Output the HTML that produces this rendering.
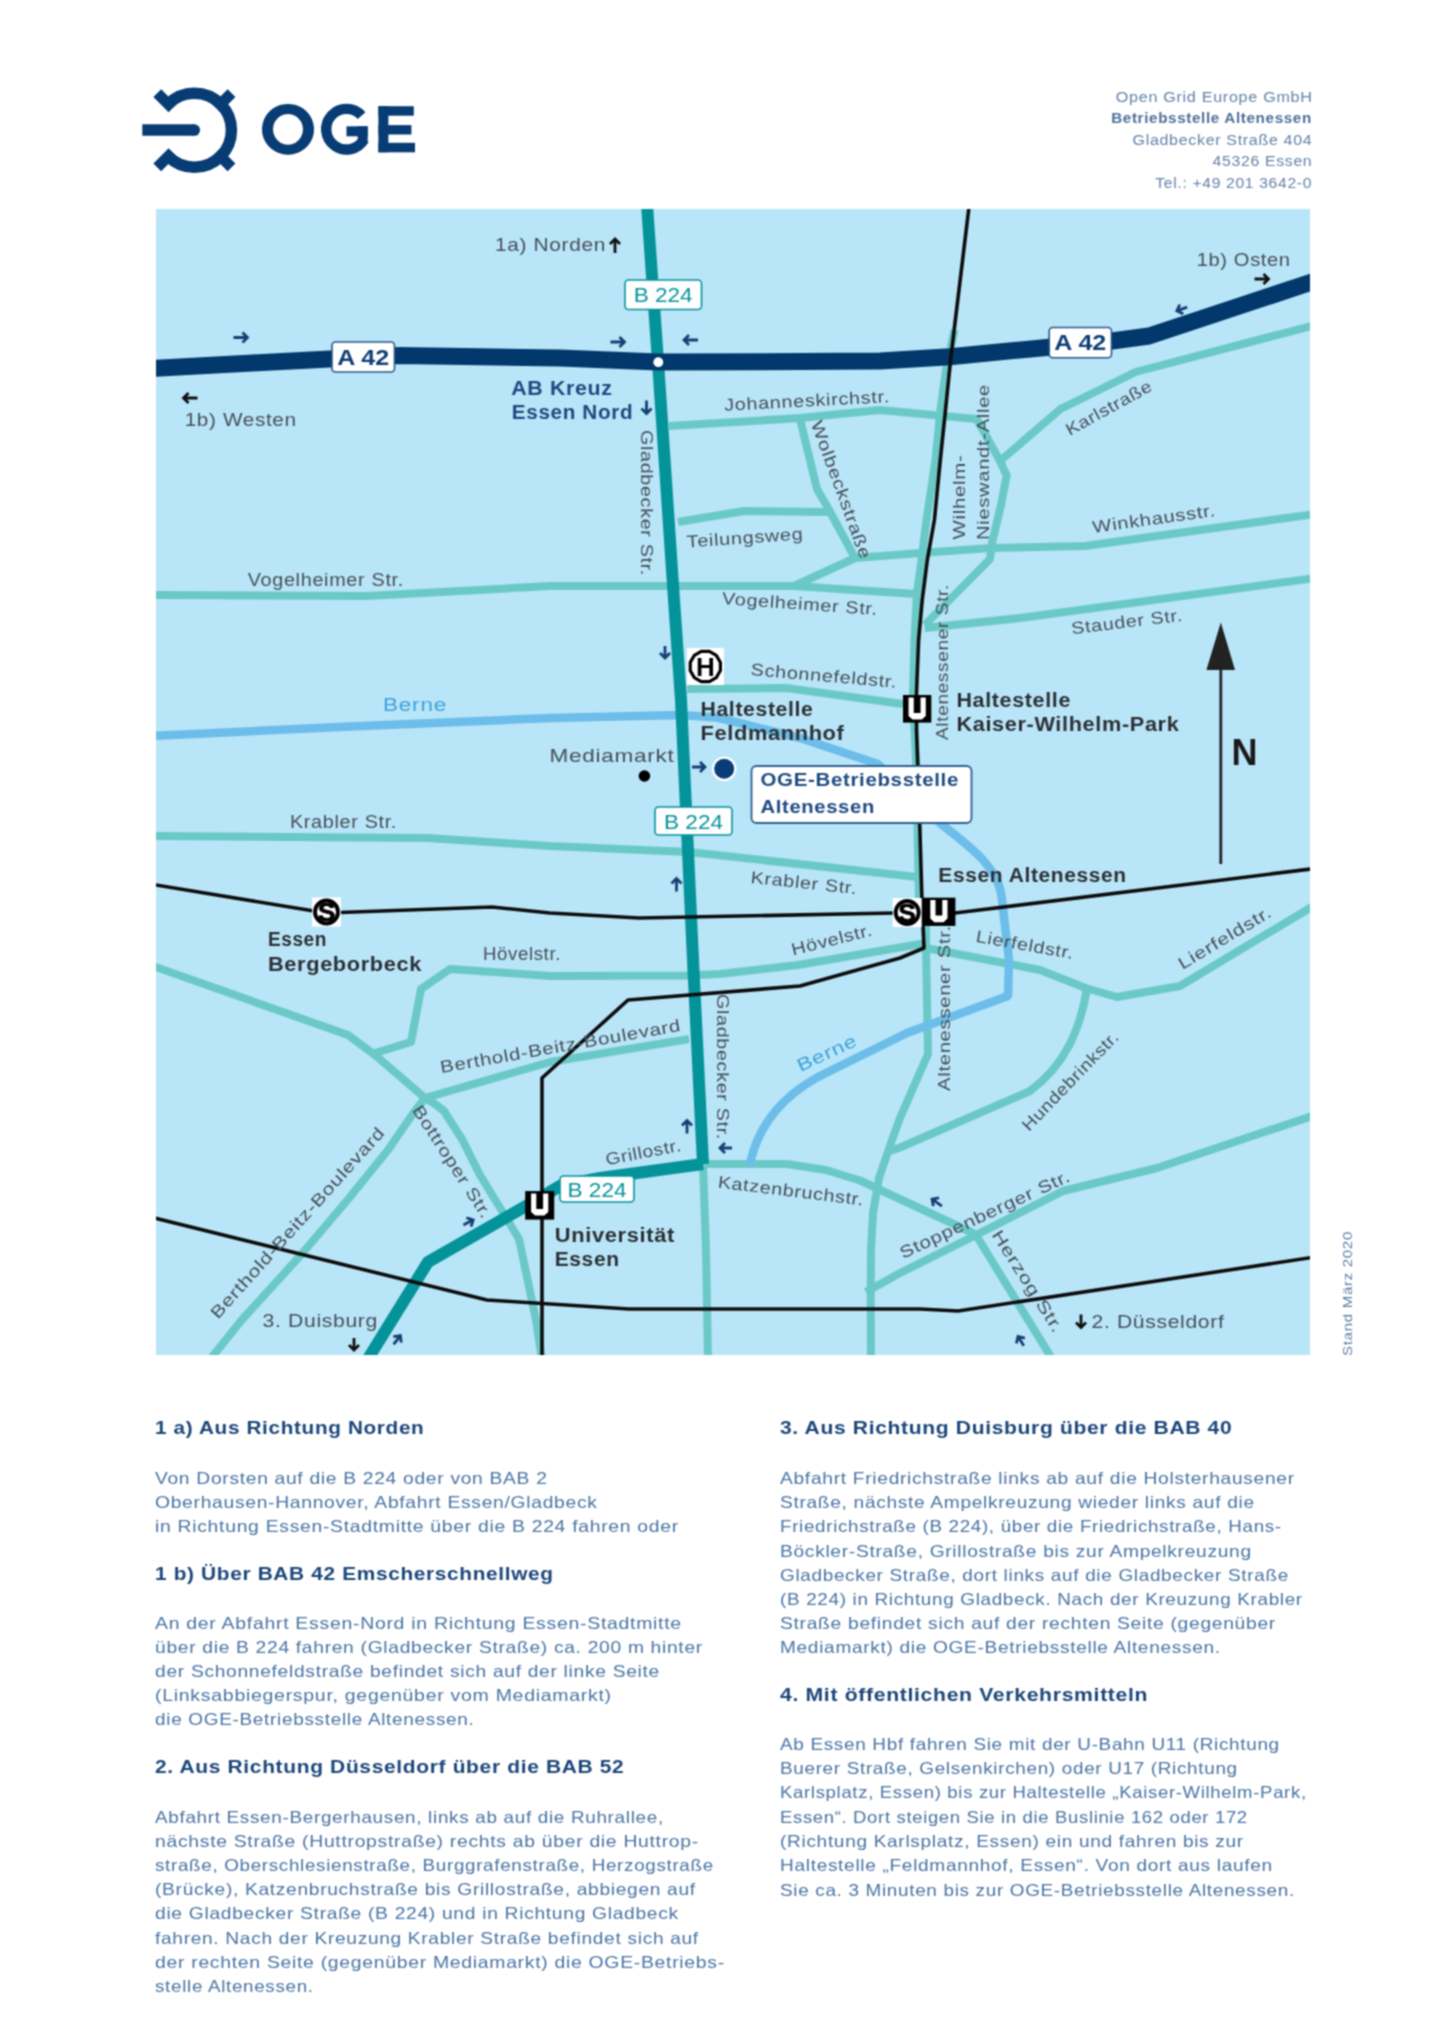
<!DOCTYPE html>
<html lang="de"><head><meta charset="utf-8"><title>OGE Anfahrt Betriebsstelle Altenessen</title>
<style>
html,body{margin:0;padding:0;background:#fff;}
html{overflow:hidden;}
body{width:1440px;height:2038px;position:relative;overflow:hidden;font-family:"Liberation Sans",sans-serif;filter:url(#soft);}
.ln{position:absolute;white-space:nowrap;line-height:20px;height:20px;}
.h{font-weight:bold;color:#1b467a;font-size:19px;}
.b{color:#4a74a3;font-size:16.5px;}
.ad{color:#6482a8;font-size:14px;}
.adb{color:#4d6f99;font-size:14px;font-weight:bold;}
svg{position:absolute;left:0;top:0;}
</style></head><body>
<div class="ln ad" style="top:86.85px;letter-spacing:0.600px;transform:scaleX(1.1536);right:127.90px;text-align:right;transform-origin:100% 50%;">Open Grid Europe GmbH</div>
<div class="ln adb" style="top:108.35px;letter-spacing:0.600px;transform:scaleX(1.0857);right:127.90px;text-align:right;transform-origin:100% 50%;">Betriebsstelle Altenessen</div>
<div class="ln ad" style="top:129.85px;letter-spacing:0.600px;transform:scaleX(1.1424);right:127.90px;text-align:right;transform-origin:100% 50%;">Gladbecker Straße 404</div>
<div class="ln ad" style="top:151.35px;letter-spacing:0.600px;transform:scaleX(1.1288);right:127.90px;text-align:right;transform-origin:100% 50%;">45326 Essen</div>
<div class="ln ad" style="top:172.85px;letter-spacing:0.600px;transform:scaleX(1.1192);right:127.90px;text-align:right;transform-origin:100% 50%;">Tel.: +49 201 3642-0</div>
<div class="ln h" style="top:1417.62px;letter-spacing:0.600px;transform:scaleX(1.0907);left:154.50px;transform-origin:0 50%;">1 a) Aus Richtung Norden</div>
<div class="ln b" style="top:1468.13px;letter-spacing:0.600px;transform:scaleX(1.1656);left:154.50px;transform-origin:0 50%;">Von Dorsten auf die B 224 oder von BAB 2</div>
<div class="ln b" style="top:1492.13px;letter-spacing:0.600px;transform:scaleX(1.1679);left:154.50px;transform-origin:0 50%;">Oberhausen-Hannover, Abfahrt Essen/Gladbeck</div>
<div class="ln b" style="top:1516.13px;letter-spacing:0.600px;transform:scaleX(1.1729);left:154.50px;transform-origin:0 50%;">in Richtung Essen-Stadtmitte über die B 224 fahren oder</div>
<div class="ln h" style="top:1563.62px;letter-spacing:0.600px;transform:scaleX(1.0966);left:154.50px;transform-origin:0 50%;">1 b) Über BAB 42 Emscherschnellweg</div>
<div class="ln b" style="top:1613.13px;letter-spacing:0.600px;transform:scaleX(1.1788);left:154.50px;transform-origin:0 50%;">An der Abfahrt Essen-Nord in Richtung Essen-Stadtmitte</div>
<div class="ln b" style="top:1637.07px;letter-spacing:0.600px;transform:scaleX(1.1646);left:154.50px;transform-origin:0 50%;">über die B 224 fahren (Gladbecker Straße) ca. 200 m hinter</div>
<div class="ln b" style="top:1661.01px;letter-spacing:0.600px;transform:scaleX(1.1638);left:154.50px;transform-origin:0 50%;">der Schonnefeldstraße befindet sich auf der linke Seite</div>
<div class="ln b" style="top:1684.95px;letter-spacing:0.600px;transform:scaleX(1.1818);left:154.50px;transform-origin:0 50%;">(Linksabbiegerspur, gegenüber vom Mediamarkt)</div>
<div class="ln b" style="top:1708.89px;letter-spacing:0.600px;transform:scaleX(1.1489);left:154.50px;transform-origin:0 50%;">die OGE-Betriebsstelle Altenessen.</div>
<div class="ln h" style="top:1756.62px;letter-spacing:0.600px;transform:scaleX(1.1028);left:154.50px;transform-origin:0 50%;">2. Aus Richtung Düsseldorf über die BAB 52</div>
<div class="ln b" style="top:1806.83px;letter-spacing:0.600px;transform:scaleX(1.1439);left:154.50px;transform-origin:0 50%;">Abfahrt Essen-Bergerhausen, links ab auf die Ruhrallee,</div>
<div class="ln b" style="top:1830.99px;letter-spacing:0.600px;transform:scaleX(1.1722);left:154.50px;transform-origin:0 50%;">nächste Straße (Huttropstraße) rechts ab über die Huttrop-</div>
<div class="ln b" style="top:1855.15px;letter-spacing:0.600px;transform:scaleX(1.1399);left:154.50px;transform-origin:0 50%;">straße, Oberschlesienstraße, Burggrafenstraße, Herzogstraße</div>
<div class="ln b" style="top:1879.31px;letter-spacing:0.600px;transform:scaleX(1.1610);left:154.50px;transform-origin:0 50%;">(Brücke), Katzenbruchstraße bis Grillostraße, abbiegen auf</div>
<div class="ln b" style="top:1903.47px;letter-spacing:0.600px;transform:scaleX(1.1649);left:154.50px;transform-origin:0 50%;">die Gladbecker Straße (B 224) und in Richtung Gladbeck</div>
<div class="ln b" style="top:1927.63px;letter-spacing:0.600px;transform:scaleX(1.1583);left:154.50px;transform-origin:0 50%;">fahren. Nach der Kreuzung Krabler Straße befindet sich auf</div>
<div class="ln b" style="top:1951.79px;letter-spacing:0.600px;transform:scaleX(1.1747);left:154.50px;transform-origin:0 50%;">der rechten Seite (gegenüber Mediamarkt) die OGE-Betriebs-</div>
<div class="ln b" style="top:1975.95px;letter-spacing:0.600px;transform:scaleX(1.1402);left:154.50px;transform-origin:0 50%;">stelle Altenessen.</div>
<div class="ln h" style="top:1417.62px;letter-spacing:0.600px;transform:scaleX(1.1070);left:780.00px;transform-origin:0 50%;">3. Aus Richtung Duisburg über die BAB 40</div>
<div class="ln b" style="top:1468.13px;letter-spacing:0.600px;transform:scaleX(1.1631);left:780.00px;transform-origin:0 50%;">Abfahrt Friedrichstraße links ab auf die Holsterhausener</div>
<div class="ln b" style="top:1492.27px;letter-spacing:0.600px;transform:scaleX(1.1589);left:780.00px;transform-origin:0 50%;">Straße, nächste Ampelkreuzung wieder links auf die</div>
<div class="ln b" style="top:1516.41px;letter-spacing:0.600px;transform:scaleX(1.1385);left:780.00px;transform-origin:0 50%;">Friedrichstraße (B 224), über die Friedrichstraße, Hans-</div>
<div class="ln b" style="top:1540.55px;letter-spacing:0.600px;transform:scaleX(1.1621);left:780.00px;transform-origin:0 50%;">Böckler-Straße, Grillostraße bis zur Ampelkreuzung</div>
<div class="ln b" style="top:1564.69px;letter-spacing:0.600px;transform:scaleX(1.1464);left:780.00px;transform-origin:0 50%;">Gladbecker Straße, dort links auf die Gladbecker Straße</div>
<div class="ln b" style="top:1588.83px;letter-spacing:0.600px;transform:scaleX(1.1424);left:780.00px;transform-origin:0 50%;">(B 224) in Richtung Gladbeck. Nach der Kreuzung Krabler</div>
<div class="ln b" style="top:1612.97px;letter-spacing:0.600px;transform:scaleX(1.1660);left:780.00px;transform-origin:0 50%;">Straße befindet sich auf der rechten Seite (gegenüber</div>
<div class="ln b" style="top:1637.11px;letter-spacing:0.600px;transform:scaleX(1.1551);left:780.00px;transform-origin:0 50%;">Mediamarkt) die OGE-Betriebsstelle Altenessen.</div>
<div class="ln h" style="top:1684.62px;letter-spacing:0.600px;transform:scaleX(1.1145);left:780.00px;transform-origin:0 50%;">4. Mit öffentlichen Verkehrsmitteln</div>
<div class="ln b" style="top:1733.88px;letter-spacing:0.600px;transform:scaleX(1.1457);left:780.00px;transform-origin:0 50%;">Ab Essen Hbf fahren Sie mit der U-Bahn U11 (Richtung</div>
<div class="ln b" style="top:1758.18px;letter-spacing:0.600px;transform:scaleX(1.1438);left:780.00px;transform-origin:0 50%;">Buerer Straße, Gelsenkirchen) oder U17 (Richtung</div>
<div class="ln b" style="top:1782.48px;letter-spacing:0.600px;transform:scaleX(1.1236);left:780.00px;transform-origin:0 50%;">Karlsplatz, Essen) bis zur Haltestelle „Kaiser-Wilhelm-Park,</div>
<div class="ln b" style="top:1806.78px;letter-spacing:0.600px;transform:scaleX(1.1193);left:780.00px;transform-origin:0 50%;">Essen“. Dort steigen Sie in die Buslinie 162 oder 172</div>
<div class="ln b" style="top:1831.08px;letter-spacing:0.600px;transform:scaleX(1.1537);left:780.00px;transform-origin:0 50%;">(Richtung Karlsplatz, Essen) ein und fahren bis zur</div>
<div class="ln b" style="top:1855.38px;letter-spacing:0.600px;transform:scaleX(1.1539);left:780.00px;transform-origin:0 50%;">Haltestelle „Feldmannhof, Essen“. Von dort aus laufen</div>
<div class="ln b" style="top:1879.68px;letter-spacing:0.600px;transform:scaleX(1.1442);left:780.00px;transform-origin:0 50%;">Sie ca. 3 Minuten bis zur OGE-Betriebsstelle Altenessen.</div>
<svg width="1440" height="2038" viewBox="0 0 1440 2038">
<defs><filter id="soft" x="0" y="0" width="100%" height="100%" color-interpolation-filters="sRGB"><feConvolveMatrix order="3" kernelMatrix="1 2 1 2 4 2 1 2 1" divisor="16" edgeMode="duplicate"/></filter><clipPath id="mc"><rect x="156" y="209" width="1154" height="1146"/></clipPath></defs>
<g fill="none" stroke="#073c75">
<path d="M168.24,104.04 A37.0,37.0 0 1 1 168.24,156.36" stroke-width="11.5"/>
<line x1="172.48" y1="108.28" x2="157.28" y2="93.08" stroke-width="11"/>
<line x1="216.32" y1="108.28" x2="231.52" y2="93.08" stroke-width="11"/>
<line x1="216.32" y1="152.12" x2="231.52" y2="167.32" stroke-width="11"/>
<line x1="172.48" y1="152.12" x2="157.28" y2="167.32" stroke-width="11"/>
<path d="M142.3,130.1 H194.3" stroke-width="11.5"/>
<circle cx="194.3" cy="130.1" r="5.75" fill="#073c75" stroke="none"/>
</g>
<g fill="#073c75" stroke="none">
<path fill-rule="evenodd" d="M288,103.9 a26,25.4 0 1 0 0.01,0 Z M288,113.9 a15,15.4 0 1 1 -0.01,0 Z"/>
</g>
<path d="M361.59,115.62 A20.3,20.3 0 1 0 364.08,139.35" fill="none" stroke="#073c75" stroke-width="10.4"/>
<rect x="346.5" y="126.3" width="21.2" height="10" fill="#073c75"/>
<rect x="357.7" y="126.3" width="10" height="17.1" fill="#073c75"/>
<rect x="378.4" y="106.2" width="10" height="46.1" fill="#073c75"/>
<rect x="378.4" y="106.2" width="35.4" height="9.5" fill="#073c75"/>
<rect x="378.4" y="125.1" width="33" height="9.4" fill="#073c75"/>
<rect x="378.4" y="142.8" width="36.6" height="9.5" fill="#073c75"/>
<rect x="156" y="209" width="1154" height="1146" fill="#b9e5f8"/>
<g clip-path="url(#mc)" fill="none" stroke-linejoin="round">
<path d="M150,595 L367,596 L550,586 L794,586 L916,594" stroke="#6ac9c6" stroke-width="8" />
<path d="M150,836 L428,838 L550,846 L689,852 L917,877" stroke="#6ac9c6" stroke-width="8" />
<path d="M669,426 L800,418 L880,410 L938,415.5 L976.7,419 L1000,461 L1006.7,475.6 L1001,505 L992,543 L990,559 L949.5,600 L924.8,625" stroke="#6ac9c6" stroke-width="8" />
<path d="M1000,461 L1060.5,409 L1135.5,372 L1315,325" stroke="#6ac9c6" stroke-width="8" />
<path d="M855,558 L921,553 L990,548 L1085,546 L1315,514" stroke="#6ac9c6" stroke-width="8" />
<path d="M800,419 L817,489 L828,508 L855,558" stroke="#6ac9c6" stroke-width="8" />
<path d="M678,522 L744,511 L828,512" stroke="#6ac9c6" stroke-width="8" />
<path d="M855,558 L794,586" stroke="#6ac9c6" stroke-width="8" />
<path d="M924.8,628 L1020,618 L1124,604 L1315,578" stroke="#6ac9c6" stroke-width="8" />
<path d="M687,689 L786,688 L903,704" stroke="#6ac9c6" stroke-width="8" />
<path d="M375,1053 L411,1042 L421,989 L450,969 L550,976 L687,975.5 L720,974 L798,965 L920,944 L926,946" stroke="#6ac9c6" stroke-width="8" />
<path d="M150,965 L348,1035 L375,1055 L425,1098 L435,1104 L444,1111 L462.5,1140 L480,1175 L519,1239 L536,1320 L542,1360" stroke="#6ac9c6" stroke-width="8" />
<path d="M208,1362 L241.7,1320 L300,1256 L347.5,1200 L388,1150 L412,1115 L425,1098 L550,1062 L689,1039" stroke="#6ac9c6" stroke-width="8" />
<path d="M703,1164 L706,1250 L708,1360" stroke="#6ac9c6" stroke-width="8" />
<path d="M703,1164 L787,1164 L826,1170 L860,1180.5 L973,1233 L976,1235" stroke="#6ac9c6" stroke-width="8" />
<path d="M926,925 L926,946 L928,1054 L900,1118 L892,1140 L879,1178 L873,1213 L871,1250 L870.7,1300 L871,1362" stroke="#6ac9c6" stroke-width="8" />
<path d="M926,948 L1040,970 L1087,988.5 L1117,997 L1180,986 L1315,905" stroke="#6ac9c6" stroke-width="8" />
<path d="M866,1292 L900,1273 L976,1235 L1063,1191 L1157,1168 L1315,1115" stroke="#6ac9c6" stroke-width="8" />
<path d="M976,1235 L1054,1362" stroke="#6ac9c6" stroke-width="8" />
<path d="M954.5,330 L946,370 L940.5,409 L935.5,460 L926.5,520 L921.5,560 L916.8,595 L914.5,640 L913.4,680 L913,700 L916,760 L918,850 L919,900 L921,925" stroke="#6ac9c6" stroke-width="8" />
<path d="M1087,988.5 C1080,1030 1065,1065 1030,1091 L900,1147.5 L890,1151" stroke="#6ac9c6" stroke-width="8"/>
<path d="M150,736 L350,726.5 L550,718 L681,715 L717,717.5 L800,738 L878,764 L941,824 C975,850 1000,870 1002,900 L1009,960 L1008,996 L907,1033 L829,1071.5 Q762,1103 749.5,1166" stroke="#6cbde9" stroke-width="8.5"/>
<path d="M647,205 L658,362 L674,600 L681,700 L693,960 L703,1164" stroke="#05939a" stroke-width="12" />
<path d="M703,1164 L600,1178 L560,1186 L540,1198 L428,1262 L366,1362" stroke="#05939a" stroke-width="12" />
<path d="M150,368.5 L330,359 L400,355.5 L560,358 L658,362 L760,361.8 L880,361 L950,356.7 L1049,347.2 L1112,341 L1149,336 L1315,281" stroke="#03386c" stroke-width="17" />
<path d="M969,207 L951,356 L945.6,409 L940.3,460 L934.4,520 L927.3,560 L922.2,600 L918.6,640 L917,680 L916.5,694 L916.5,730 L919,800 L922,902 L924,948 L900,958 L800,986 L628,1000 L542,1078 L542,1360" stroke="#0d0d0d" stroke-width="3.6" />
<path d="M150,884 L314,911 L326,913 L492,907 L550,913 L639,918 L894,913 L955,913 L1315,868.5" stroke="#0d0d0d" stroke-width="3.6" />
<path d="M150,1217 L487,1300 L629,1309 L920,1309 L958,1311 L1315,1257" stroke="#0d0d0d" stroke-width="3.6" />
</g>
<circle cx="658.3" cy="362.2" r="4.9" fill="#fff"/>
<rect x="625" y="280" width="76.5" height="29.5" rx="3.5" fill="#fff" stroke="#05939a" stroke-width="1.6"/>
<text x="663.2" y="302.3" text-anchor="middle" font-size="21" textLength="59" lengthAdjust="spacingAndGlyphs" fill="#05939a">B 224</text>
<rect x="655" y="807" width="77" height="28" rx="3.5" fill="#fff" stroke="#05939a" stroke-width="1.6"/>
<text x="693.5" y="828.6" text-anchor="middle" font-size="21" textLength="59" lengthAdjust="spacingAndGlyphs" fill="#05939a">B 224</text>
<rect x="560" y="1176" width="74" height="26" rx="3.5" fill="#fff" stroke="#05939a" stroke-width="1.6"/>
<text x="597.0" y="1196.6" text-anchor="middle" font-size="21" textLength="59" lengthAdjust="spacingAndGlyphs" fill="#05939a">B 224</text>
<rect x="332" y="342" width="62.5" height="30" rx="3.5" fill="#fff" stroke="#2c5585" stroke-width="1.6"/>
<text x="363.2" y="364.7" text-anchor="middle" font-size="21.5" textLength="52" lengthAdjust="spacingAndGlyphs" fill="#0d3f75" font-weight="bold">A 42</text>
<rect x="1049.2" y="327.5" width="62.299999999999955" height="30.30000000000001" rx="3.5" fill="#fff" stroke="#2c5585" stroke-width="1.6"/>
<text x="1080.3" y="350.4" text-anchor="middle" font-size="21.5" textLength="52" lengthAdjust="spacingAndGlyphs" fill="#0d3f75" font-weight="bold">A 42</text>
<rect x="312.0" y="897.5" width="29" height="29" fill="#fff"/>
<circle cx="326.5" cy="912" r="11.5" fill="#fff" stroke="#000" stroke-width="3.9"/>
<text x="326.5" y="921.4" text-anchor="middle" font-size="26.5" font-weight="bold" fill="#000" stroke="#000" stroke-width="0.7">S</text>
<rect x="892.7" y="898.0" width="29" height="29" fill="#fff"/>
<circle cx="907.2" cy="912.5" r="11.5" fill="#fff" stroke="#000" stroke-width="3.9"/>
<text x="907.2" y="921.9" text-anchor="middle" font-size="26.5" font-weight="bold" fill="#000" stroke="#000" stroke-width="0.7">S</text>
<rect x="922.4" y="897.7" width="33" height="28.2" fill="#000"/>
<path d="M930.3,900.1 h5.2 v15.5 h6.8 v-15.5 h5.2 v18.5 l-4,3.6 h-9.2 l-4,-3.6 Z" fill="#fff" transform="translate(0,0)"/>
<rect x="903" y="695" width="28.3" height="27.6" fill="#000"/>
<path d="M908.55,697.4 h5.2 v15.5 h6.8 v-15.5 h5.2 v18.5 l-4,3.6 h-9.2 l-4,-3.6 Z" fill="#fff" transform="translate(0,0)"/>
<rect x="525.2" y="1191.1" width="29" height="28.5" fill="#000"/>
<path d="M531.1,1193.5 h5.2 v15.5 h6.8 v-15.5 h5.2 v18.5 l-4,3.6 h-9.2 l-4,-3.6 Z" fill="#fff" transform="translate(0,0)"/>
<rect x="686.9" y="648.0" width="37" height="37" fill="#fff"/>
<polygon points="720.37,670.54 716.33,677.53 709.34,681.57 701.26,681.57 694.27,677.53 690.23,670.54 690.23,662.46 694.27,655.47 701.26,651.43 709.34,651.43 716.33,655.47 720.37,662.46" fill="#fff" stroke="#000" stroke-width="3.2"/>
<text x="705.3" y="675.9" text-anchor="middle" font-size="26" font-weight="bold" fill="#000">H</text>
<circle cx="644.4" cy="776" r="5.8" fill="#000"/>
<circle cx="724.2" cy="768.8" r="12.3" fill="#fff"/>
<circle cx="724.2" cy="768.8" r="10" fill="#0a3d78"/>
<rect x="751.5" y="766" width="220" height="57" rx="5" fill="#fff" stroke="#2f5d92" stroke-width="1.8"/>
<line x1="1220.8" y1="864" x2="1220.8" y2="665" stroke="#222" stroke-width="2.8"/>
<polygon points="1220.8,622.5 1206.4,670 1235,670" fill="#222"/>
<path d="M233.50,337.50 L247.50,337.50 M242.50,342.50 L247.50,337.50 L242.50,332.50" fill="none" stroke="#163f72" stroke-width="2.8" stroke-linecap="butt" stroke-linejoin="miter"/>
<path d="M610.50,342.00 L624.50,342.00 M619.50,347.00 L624.50,342.00 L619.50,337.00" fill="none" stroke="#163f72" stroke-width="2.8" stroke-linecap="butt" stroke-linejoin="miter"/>
<path d="M698.00,340.00 L684.00,340.00 M689.00,335.00 L684.00,340.00 L689.00,345.00" fill="none" stroke="#163f72" stroke-width="2.8" stroke-linecap="butt" stroke-linejoin="miter"/>
<path d="M197.50,398.00 L183.50,398.00 M188.50,393.00 L183.50,398.00 L188.50,403.00" fill="none" stroke="#111" stroke-width="2.8" stroke-linecap="butt" stroke-linejoin="miter"/>
<path d="M615.00,253.00 L615.00,239.00 M620.00,244.00 L615.00,239.00 L610.00,244.00" fill="none" stroke="#111" stroke-width="2.8" stroke-linecap="butt" stroke-linejoin="miter"/>
<path d="M1254.50,279.00 L1268.50,279.00 M1263.50,284.00 L1268.50,279.00 L1263.50,274.00" fill="none" stroke="#111" stroke-width="2.8" stroke-linecap="butt" stroke-linejoin="miter"/>
<path d="M646.50,400.50 L646.50,413.50 M641.50,408.50 L646.50,413.50 L651.50,408.50" fill="none" stroke="#163f72" stroke-width="2.8" stroke-linecap="butt" stroke-linejoin="miter"/>
<path d="M1187.17,307.12 L1176.83,310.88 M1179.82,304.47 L1176.83,310.88 L1183.24,313.87" fill="none" stroke="#163f72" stroke-width="2.8" stroke-linecap="butt" stroke-linejoin="miter"/>
<path d="M665.00,646.00 L665.00,658.00 M660.00,653.00 L665.00,658.00 L670.00,653.00" fill="none" stroke="#163f72" stroke-width="2.8" stroke-linecap="butt" stroke-linejoin="miter"/>
<path d="M692.00,767.00 L705.00,767.00 M700.00,772.00 L705.00,767.00 L700.00,762.00" fill="none" stroke="#163f72" stroke-width="2.8" stroke-linecap="butt" stroke-linejoin="miter"/>
<path d="M676.50,891.50 L676.50,878.50 M681.50,883.50 L676.50,878.50 L671.50,883.50" fill="none" stroke="#163f72" stroke-width="2.8" stroke-linecap="butt" stroke-linejoin="miter"/>
<path d="M687.00,1133.50 L687.00,1120.50 M692.00,1125.50 L687.00,1120.50 L682.00,1125.50" fill="none" stroke="#163f72" stroke-width="2.8" stroke-linecap="butt" stroke-linejoin="miter"/>
<path d="M732.00,1148.00 L720.00,1148.00 M725.00,1143.00 L720.00,1148.00 L725.00,1153.00" fill="none" stroke="#163f72" stroke-width="2.8" stroke-linecap="butt" stroke-linejoin="miter"/>
<path d="M463.44,1224.98 L473.16,1219.82 M471.09,1226.58 L473.16,1219.82 L466.39,1217.75" fill="none" stroke="#163f72" stroke-width="2.8" stroke-linecap="butt" stroke-linejoin="miter"/>
<path d="M941.91,1206.04 L932.09,1199.16 M939.05,1197.93 L932.09,1199.16 L933.31,1206.12" fill="none" stroke="#163f72" stroke-width="2.8" stroke-linecap="butt" stroke-linejoin="miter"/>
<path d="M1023.81,1345.86 L1017.99,1336.54 M1024.88,1338.13 L1017.99,1336.54 L1016.39,1343.43" fill="none" stroke="#163f72" stroke-width="2.8" stroke-linecap="butt" stroke-linejoin="miter"/>
<path d="M354.00,1338.00 L354.00,1350.00 M349.00,1345.00 L354.00,1350.00 L359.00,1345.00" fill="none" stroke="#111" stroke-width="2.8" stroke-linecap="butt" stroke-linejoin="miter"/>
<path d="M393.61,1344.33 L400.39,1335.67 M401.25,1342.68 L400.39,1335.67 L393.37,1336.53" fill="none" stroke="#163f72" stroke-width="2.8" stroke-linecap="butt" stroke-linejoin="miter"/>
<path d="M1081.00,1314.50 L1081.00,1327.50 M1076.00,1322.50 L1081.00,1327.50 L1086.00,1322.50" fill="none" stroke="#111" stroke-width="2.8" stroke-linecap="butt" stroke-linejoin="miter"/>
<text x="495" y="251.3" font-size="19" letter-spacing="0.6" textLength="111.0" lengthAdjust="spacingAndGlyphs" fill="#464f58" text-anchor="start">1a) Norden</text>
<text x="184.7" y="425.8" font-size="19" letter-spacing="0.6" textLength="112.0" lengthAdjust="spacingAndGlyphs" fill="#464f58" text-anchor="start">1b) Westen</text>
<text x="1196.7" y="265.8" font-size="19" letter-spacing="0.6" textLength="94.0" lengthAdjust="spacingAndGlyphs" fill="#464f58" text-anchor="start">1b) Osten</text>
<text x="511.2" y="394.5" font-size="19.5" letter-spacing="0.6" textLength="101.4" lengthAdjust="spacingAndGlyphs" fill="#1d4a80" text-anchor="start" font-weight="bold">AB Kreuz</text>
<text x="511.8" y="418.5" font-size="19.5" letter-spacing="0.6" textLength="121.4" lengthAdjust="spacingAndGlyphs" fill="#1d4a80" text-anchor="start" font-weight="bold">Essen Nord</text>
<text x="549.5" y="762" font-size="19" letter-spacing="0.6" textLength="125.0" lengthAdjust="spacingAndGlyphs" fill="#464f58" text-anchor="start">Mediamarkt</text>
<text x="700.5" y="716.3" font-size="20" letter-spacing="0.6" textLength="113.0" lengthAdjust="spacingAndGlyphs" fill="#2c3035" text-anchor="start" font-weight="bold">Haltestelle</text>
<text x="700.5" y="740.3" font-size="20" letter-spacing="0.6" textLength="144.0" lengthAdjust="spacingAndGlyphs" fill="#2c3035" text-anchor="start" font-weight="bold">Feldmannhof</text>
<text x="956.4" y="707" font-size="20" letter-spacing="0.6" textLength="114.6" lengthAdjust="spacingAndGlyphs" fill="#2c3035" text-anchor="start" font-weight="bold">Haltestelle</text>
<text x="956.4" y="731" font-size="20" letter-spacing="0.6" textLength="223.0" lengthAdjust="spacingAndGlyphs" fill="#2c3035" text-anchor="start" font-weight="bold">Kaiser-Wilhelm-Park</text>
<text x="938.3" y="882" font-size="20" letter-spacing="0.6" textLength="188.5" lengthAdjust="spacingAndGlyphs" fill="#2c3035" text-anchor="start" font-weight="bold">Essen Altenessen</text>
<text x="268" y="946.4" font-size="20" letter-spacing="0.6" textLength="59.0" lengthAdjust="spacingAndGlyphs" fill="#2c3035" text-anchor="start" font-weight="bold">Essen</text>
<text x="268" y="971" font-size="20" letter-spacing="0.6" textLength="154.0" lengthAdjust="spacingAndGlyphs" fill="#2c3035" text-anchor="start" font-weight="bold">Bergeborbeck</text>
<text x="554.7" y="1242" font-size="20" letter-spacing="0.6" textLength="120.3" lengthAdjust="spacingAndGlyphs" fill="#2c3035" text-anchor="start" font-weight="bold">Universität</text>
<text x="554.7" y="1266" font-size="20" letter-spacing="0.6" textLength="65.0" lengthAdjust="spacingAndGlyphs" fill="#2c3035" text-anchor="start" font-weight="bold">Essen</text>
<text x="247.7" y="585.7" font-size="17.5" letter-spacing="0.6" textLength="156.3" lengthAdjust="spacingAndGlyphs" fill="#464f58" text-anchor="start">Vogelheimer Str.</text>
<text x="290" y="828" font-size="17.5" letter-spacing="0.6" textLength="107.0" lengthAdjust="spacingAndGlyphs" fill="#464f58" text-anchor="start">Krabler Str.</text>
<text x="383" y="711" font-size="18" letter-spacing="0.6" textLength="64.0" lengthAdjust="spacingAndGlyphs" fill="#3ea2dd" text-anchor="start">Berne</text>
<text x="262.5" y="1327" font-size="19" letter-spacing="0.6" textLength="115.5" lengthAdjust="spacingAndGlyphs" fill="#464f58" text-anchor="start">3. Duisburg</text>
<text x="1091.5" y="1328.2" font-size="19" letter-spacing="0.6" textLength="133.0" lengthAdjust="spacingAndGlyphs" fill="#464f58" text-anchor="start">2. Düsseldorf</text>
<text x="483" y="960" font-size="17.5" letter-spacing="0.6" textLength="78.0" lengthAdjust="spacingAndGlyphs" fill="#464f58" text-anchor="start">Hövelstr.</text>
<text x="1231.5" y="765" font-size="36" fill="#1a1a1a" text-anchor="start" font-weight="bold">N</text>
<text x="760.5" y="786.3" font-size="18.5" letter-spacing="0.6" textLength="198.5" lengthAdjust="spacingAndGlyphs" fill="#1d4a80" text-anchor="start" font-weight="bold">OGE-Betriebsstelle</text>
<text x="760.5" y="813" font-size="18.5" letter-spacing="0.6" textLength="114.4" lengthAdjust="spacingAndGlyphs" fill="#1d4a80" text-anchor="start" font-weight="bold">Altenessen</text>
<text x="807" y="401" font-size="17" letter-spacing="0.6" textLength="166.0" lengthAdjust="spacingAndGlyphs" fill="#464f58" text-anchor="middle" transform="rotate(-3 807 401)" dominant-baseline="central">Johanneskirchstr.</text>
<text x="745" y="538" font-size="17" letter-spacing="0.6" textLength="117.0" lengthAdjust="spacingAndGlyphs" fill="#464f58" text-anchor="middle" transform="rotate(-4 745 538)" dominant-baseline="central">Teilungsweg</text>
<text x="800" y="604" font-size="17" letter-spacing="0.6" textLength="156.0" lengthAdjust="spacingAndGlyphs" fill="#464f58" text-anchor="middle" transform="rotate(4 800 604)" dominant-baseline="central">Vogelheimer Str.</text>
<text x="824" y="676" font-size="17" letter-spacing="0.6" textLength="147.0" lengthAdjust="spacingAndGlyphs" fill="#464f58" text-anchor="middle" transform="rotate(5 824 676)" dominant-baseline="central">Schonnefeldstr.</text>
<text x="804" y="883" font-size="17" letter-spacing="0.6" textLength="107.0" lengthAdjust="spacingAndGlyphs" fill="#464f58" text-anchor="middle" transform="rotate(6 804 883)" dominant-baseline="central">Krabler Str.</text>
<text x="1154" y="519" font-size="17" letter-spacing="0.6" textLength="124.0" lengthAdjust="spacingAndGlyphs" fill="#464f58" text-anchor="middle" transform="rotate(-8 1154 519)" dominant-baseline="central">Winkhausstr.</text>
<text x="1127" y="622" font-size="17" letter-spacing="0.6" textLength="112.0" lengthAdjust="spacingAndGlyphs" fill="#464f58" text-anchor="middle" transform="rotate(-7 1127 622)" dominant-baseline="central">Stauder Str.</text>
<text x="1109" y="408" font-size="17" letter-spacing="0.6" textLength="96.0" lengthAdjust="spacingAndGlyphs" fill="#464f58" text-anchor="middle" transform="rotate(-29 1109 408)" dominant-baseline="central">Karlstraße</text>
<text x="832" y="940" font-size="17" letter-spacing="0.6" textLength="83.0" lengthAdjust="spacingAndGlyphs" fill="#464f58" text-anchor="middle" transform="rotate(-14 832 940)" dominant-baseline="central">Hövelstr.</text>
<text x="1025" y="945" font-size="17" letter-spacing="0.6" textLength="99.0" lengthAdjust="spacingAndGlyphs" fill="#464f58" text-anchor="middle" transform="rotate(10 1025 945)" dominant-baseline="central">Lierfeldstr.</text>
<text x="1225" y="938" font-size="17" letter-spacing="0.6" textLength="106.0" lengthAdjust="spacingAndGlyphs" fill="#464f58" text-anchor="middle" transform="rotate(-31 1225 938)" dominant-baseline="central">Lierfeldstr.</text>
<text x="560.5" y="1046.5" font-size="17" letter-spacing="0.6" textLength="244.0" lengthAdjust="spacingAndGlyphs" fill="#464f58" text-anchor="middle" transform="rotate(-10 560.5 1046.5)" dominant-baseline="central">Berthold-Beitz-Boulevard</text>
<text x="643.5" y="1152.5" font-size="17" letter-spacing="0.6" textLength="77.0" lengthAdjust="spacingAndGlyphs" fill="#464f58" text-anchor="middle" transform="rotate(-11 643.5 1152.5)" dominant-baseline="central">Grillostr.</text>
<text x="791" y="1191" font-size="17" letter-spacing="0.6" textLength="147.0" lengthAdjust="spacingAndGlyphs" fill="#464f58" text-anchor="middle" transform="rotate(7 791 1191)" dominant-baseline="central">Katzenbruchstr.</text>
<text x="827" y="1053" font-size="18" letter-spacing="0.6" textLength="64.0" lengthAdjust="spacingAndGlyphs" fill="#3ea2dd" text-anchor="middle" transform="rotate(-25 827 1053)" dominant-baseline="central">Berne</text>
<text x="1070.6" y="1081" font-size="17" letter-spacing="0.6" textLength="131.0" lengthAdjust="spacingAndGlyphs" fill="#464f58" text-anchor="middle" transform="rotate(-46 1070.6 1081)" dominant-baseline="central">Hundebrinkstr.</text>
<text x="985" y="1214.6" font-size="17" letter-spacing="0.6" textLength="186.0" lengthAdjust="spacingAndGlyphs" fill="#464f58" text-anchor="middle" transform="rotate(-25 985 1214.6)" dominant-baseline="central">Stoppenberger Str.</text>
<text x="1027.5" y="1281.5" font-size="17" letter-spacing="0.6" textLength="118.0" lengthAdjust="spacingAndGlyphs" fill="#464f58" text-anchor="middle" transform="rotate(57.5 1027.5 1281.5)" dominant-baseline="central">Herzog Str.</text>
<text x="297.8" y="1222.8" font-size="17" letter-spacing="0.6" textLength="251.0" lengthAdjust="spacingAndGlyphs" fill="#464f58" text-anchor="middle" transform="rotate(-48 297.8 1222.8)" dominant-baseline="central">Berthold-Beitz-Boulevard</text>
<text x="452" y="1162" font-size="17" letter-spacing="0.6" textLength="131.0" lengthAdjust="spacingAndGlyphs" fill="#464f58" text-anchor="middle" transform="rotate(57 452 1162)" dominant-baseline="central">Bottroper Str.</text>
<text x="646" y="503" font-size="17" letter-spacing="0.6" textLength="146.0" lengthAdjust="spacingAndGlyphs" fill="#464f58" text-anchor="middle" transform="rotate(90 646 503)" dominant-baseline="central">Gladbecker Str.</text>
<text x="722" y="1067" font-size="17" letter-spacing="0.6" textLength="146.0" lengthAdjust="spacingAndGlyphs" fill="#464f58" text-anchor="middle" transform="rotate(90 722 1067)" dominant-baseline="central">Gladbecker Str.</text>
<text x="841" y="490" font-size="17" letter-spacing="0.6" textLength="146.0" lengthAdjust="spacingAndGlyphs" fill="#464f58" text-anchor="middle" transform="rotate(70 841 490)" dominant-baseline="central">Wolbeckstraße</text>
<text x="959.5" y="497" font-size="17" letter-spacing="0.6" textLength="85.0" lengthAdjust="spacingAndGlyphs" fill="#464f58" text-anchor="middle" transform="rotate(-90 959.5 497)" dominant-baseline="central">Wilhelm-</text>
<text x="983" y="462" font-size="17" letter-spacing="0.6" textLength="156.0" lengthAdjust="spacingAndGlyphs" fill="#464f58" text-anchor="middle" transform="rotate(-90 983 462)" dominant-baseline="central">Nieswandt-Allee</text>
<text x="942" y="662" font-size="17" letter-spacing="0.6" textLength="156.0" lengthAdjust="spacingAndGlyphs" fill="#464f58" text-anchor="middle" transform="rotate(-90 942 662)" dominant-baseline="central">Altenessener Str.</text>
<text x="944" y="1008" font-size="17" letter-spacing="0.6" textLength="166.0" lengthAdjust="spacingAndGlyphs" fill="#464f58" text-anchor="middle" transform="rotate(-90 944 1008)" dominant-baseline="central">Altenessener Str.</text>
<text x="1347.3" y="1293.5" font-size="13" letter-spacing="0.6" textLength="125.0" lengthAdjust="spacingAndGlyphs" fill="#5d7ea6" text-anchor="middle" transform="rotate(-90 1347.3 1293.5)" dominant-baseline="central">Stand März 2020</text>
</svg></body></html>
